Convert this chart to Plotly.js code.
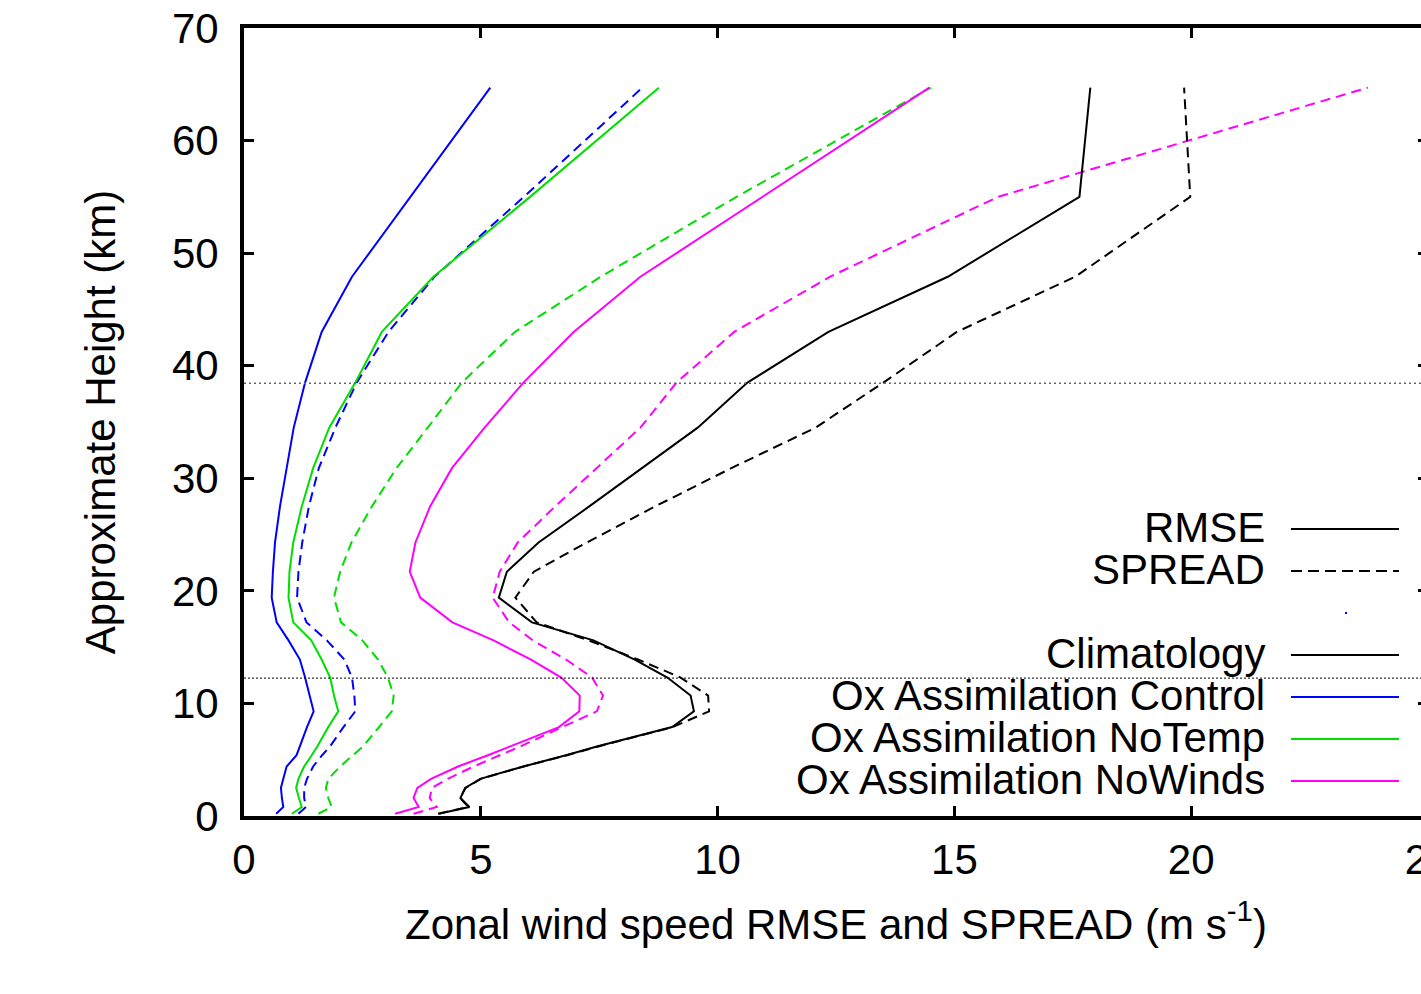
<!DOCTYPE html>
<html><head><meta charset="utf-8">
<script src="https://cdn.plot.ly/plotly-3.0.1.min.js"></script>
<style>html,body{margin:0;padding:0;overflow:hidden;background:#fff}#chart{width:1500px;height:994px}</style>
</head><body><div id="chart"></div>
<script>
// Approximate height levels (km)
const heights = [0.2,0.8,1.6,2.5,3.3,4.4,5.4,6.2,7.9,9.3,10.7,12.3,13.9,15.6,17.2,19.4,21.7,24.3,27.5,30.9,34.5,38.5,43.0,47.9,55.0,64.7];
// Zonal wind speed (m/s)
const climRMSE       = [4.11,4.76,4.57,4.67,4.99,5.90,6.80,7.47,9.04,9.50,9.43,8.94,8.25,7.38,6.08,5.38,5.55,6.22,7.29,8.40,9.58,10.63,12.34,14.86,17.64,17.87];
const climSPREAD     = [4.10,4.74,4.56,4.68,5.00,5.90,6.82,7.50,9.05,9.82,9.80,9.22,8.32,7.28,6.18,5.73,6.12,7.24,8.68,10.29,12.07,13.50,15.05,17.55,19.98,19.85];
const controlRMSE    = [0.68,0.83,0.80,0.78,0.83,0.90,1.11,1.18,1.33,1.47,1.39,1.29,1.18,0.94,0.69,0.585,0.61,0.655,0.76,0.90,1.05,1.29,1.64,2.28,3.52,5.20];
const controlSPREAD  = [1.15,1.31,1.27,1.27,1.33,1.46,1.65,1.82,2.10,2.35,2.33,2.28,2.12,1.75,1.32,1.12,1.15,1.23,1.37,1.58,1.93,2.38,3.05,4.02,5.91,8.41];
const noTempRMSE     = [1.01,1.22,1.16,1.10,1.15,1.27,1.43,1.55,1.78,1.99,1.90,1.82,1.64,1.42,1.04,0.94,0.96,1.04,1.22,1.46,1.80,2.35,2.91,4.00,6.04,8.76];
const noTempSPREAD   = [1.57,1.85,1.78,1.73,1.78,2.03,2.30,2.52,2.85,3.12,3.16,3.04,2.83,2.50,2.05,1.90,2.03,2.27,2.70,3.22,3.88,4.60,5.72,7.53,10.40,14.50];
const noWindsRMSE    = [3.19,3.69,3.58,3.66,3.95,4.52,5.15,5.63,6.65,7.08,7.09,6.70,6.06,5.27,4.40,3.72,3.50,3.62,3.93,4.39,5.08,5.90,6.96,8.37,10.95,14.47];
const noWindsSPREAD  = [3.58,4.07,3.92,3.97,4.30,4.85,5.40,5.85,6.72,7.45,7.58,7.35,6.80,6.10,5.60,5.25,5.40,5.78,6.57,7.45,8.37,9.13,10.35,12.37,15.92,23.73];
// reference heights of dotted lines (km)
const refHeights = [38.45, 12.25];

const xTickVals = [0,5,10,15,20,25];
const yTickVals = [0,10,20,30,40,50,60,70];

const legendLabels = ['RMSE','SPREAD','','Climatology','Ox Assimilation Control','Ox Assimilation NoTemp','Ox Assimilation NoWinds'];
const legendColors = ['#000','#000',null,'#000','#0000ff','#00dd00','#ff00ff'];
const legendDash   = ['solid','11px,6px',null,'solid','solid','solid','solid'];

const BLUE='#0000ff', GREEN='#00dd00', MAG='#ff00ff', BLK='#000000';
const DASH='10px,6px';
const FS = 42;
function tr(x, color, dash, name){
  return {x:x, y:heights, type:'scatter', mode:'lines', name:name,
          line:{color:color, width:2, dash:dash}, hoverinfo:'skip'};
}
const data = [
  tr(controlRMSE, BLUE, 'solid', 'Control RMSE'),
  tr(controlSPREAD, BLUE, DASH, 'Control SPREAD'),
  tr(noTempRMSE, GREEN, 'solid', 'NoTemp RMSE'),
  tr(noTempSPREAD, GREEN, DASH, 'NoTemp SPREAD'),
  tr(noWindsRMSE, MAG, 'solid', 'NoWinds RMSE'),
  tr(noWindsSPREAD, MAG, DASH, 'NoWinds SPREAD'),
  tr(climRMSE, BLK, 'solid', 'Climatology RMSE'),
  tr(climSPREAD, BLK, DASH, 'Climatology SPREAD')
];

// plot area in pixels
const PX0=244, PW=1184, PY0=28, PH=788;
const px = v => (v-PX0)/PW;
const py = v => (PY0+PH-v)/PH;

const shapes = [
  {type:'line', xref:'paper', yref:'y', x0:0, x1:1, y0:refHeights[0], y1:refHeights[0], line:{color:'#666', width:1.5, dash:'2px,3px'}},
  {type:'line', xref:'paper', yref:'y', x0:0, x1:1, y0:refHeights[1], y1:refHeights[1], line:{color:'#000', width:1, dash:'2px,2px'}}
];
const annotations = [];
const rowY = [529,571,613,655,697,739,781];
legendLabels.forEach((lab,i)=>{
  if (lab) {
    annotations.push({xref:'paper', yref:'paper', x:px(1267), y:py(rowY[i]), xanchor:'right', yanchor:'middle',
      text:lab, showarrow:false, font:{size:FS, color:'#000'}, yshift:2});
  }
  if (legendColors[i]) {
    shapes.push({type:'line', xref:'paper', yref:'paper', x0:px(1291), x1:px(1399), y0:py(rowY[i]), y1:py(rowY[i]),
      line:{color:legendColors[i], width:2, dash:legendDash[i]}});
  } else {
    shapes.push({type:'rect', xref:'paper', yref:'paper', x0:px(1345), x1:px(1347), y0:py(rowY[i]+1), y1:py(rowY[i]-1),
      line:{width:0}, fillcolor:'#0000ff'});
  }
});

const axisCommon = {showgrid:false, zeroline:false, ticks:'inside', ticklen:10, tickwidth:3, tickcolor:'#000',
  showline:true, linewidth:4, linecolor:'#000', mirror:'ticks', tickfont:{size:FS, color:'#000'}};

const layout = {
  width:1500, height:994,
  margin:{l:PX0, r:1500-PX0-PW, t:PY0, b:994-PY0-PH, pad:0},
  paper_bgcolor:'#fff', plot_bgcolor:'#fff',
  showlegend:false,
  font:{family:'Liberation Sans, Arial, sans-serif', size:FS, color:'#000'},
  xaxis:Object.assign({}, axisCommon, {range:[0,25], tickvals:xTickVals, ticklabelstandoff:4,
    title:{text:'Zonal wind speed RMSE and SPREAD (m s<sup>-1</sup>)', standoff:28, font:{size:FS}}}),
  yaxis:Object.assign({}, axisCommon, {range:[0,70], tickvals:yTickVals, ticklabelstandoff:13,
    title:{text:'Approximate Height (km)', standoff:44, font:{size:FS}}}),
  shapes:shapes,
  annotations:annotations
};
Plotly.newPlot('chart', data, layout, {displayModeBar:false, staticPlot:true});
</script></body></html>
